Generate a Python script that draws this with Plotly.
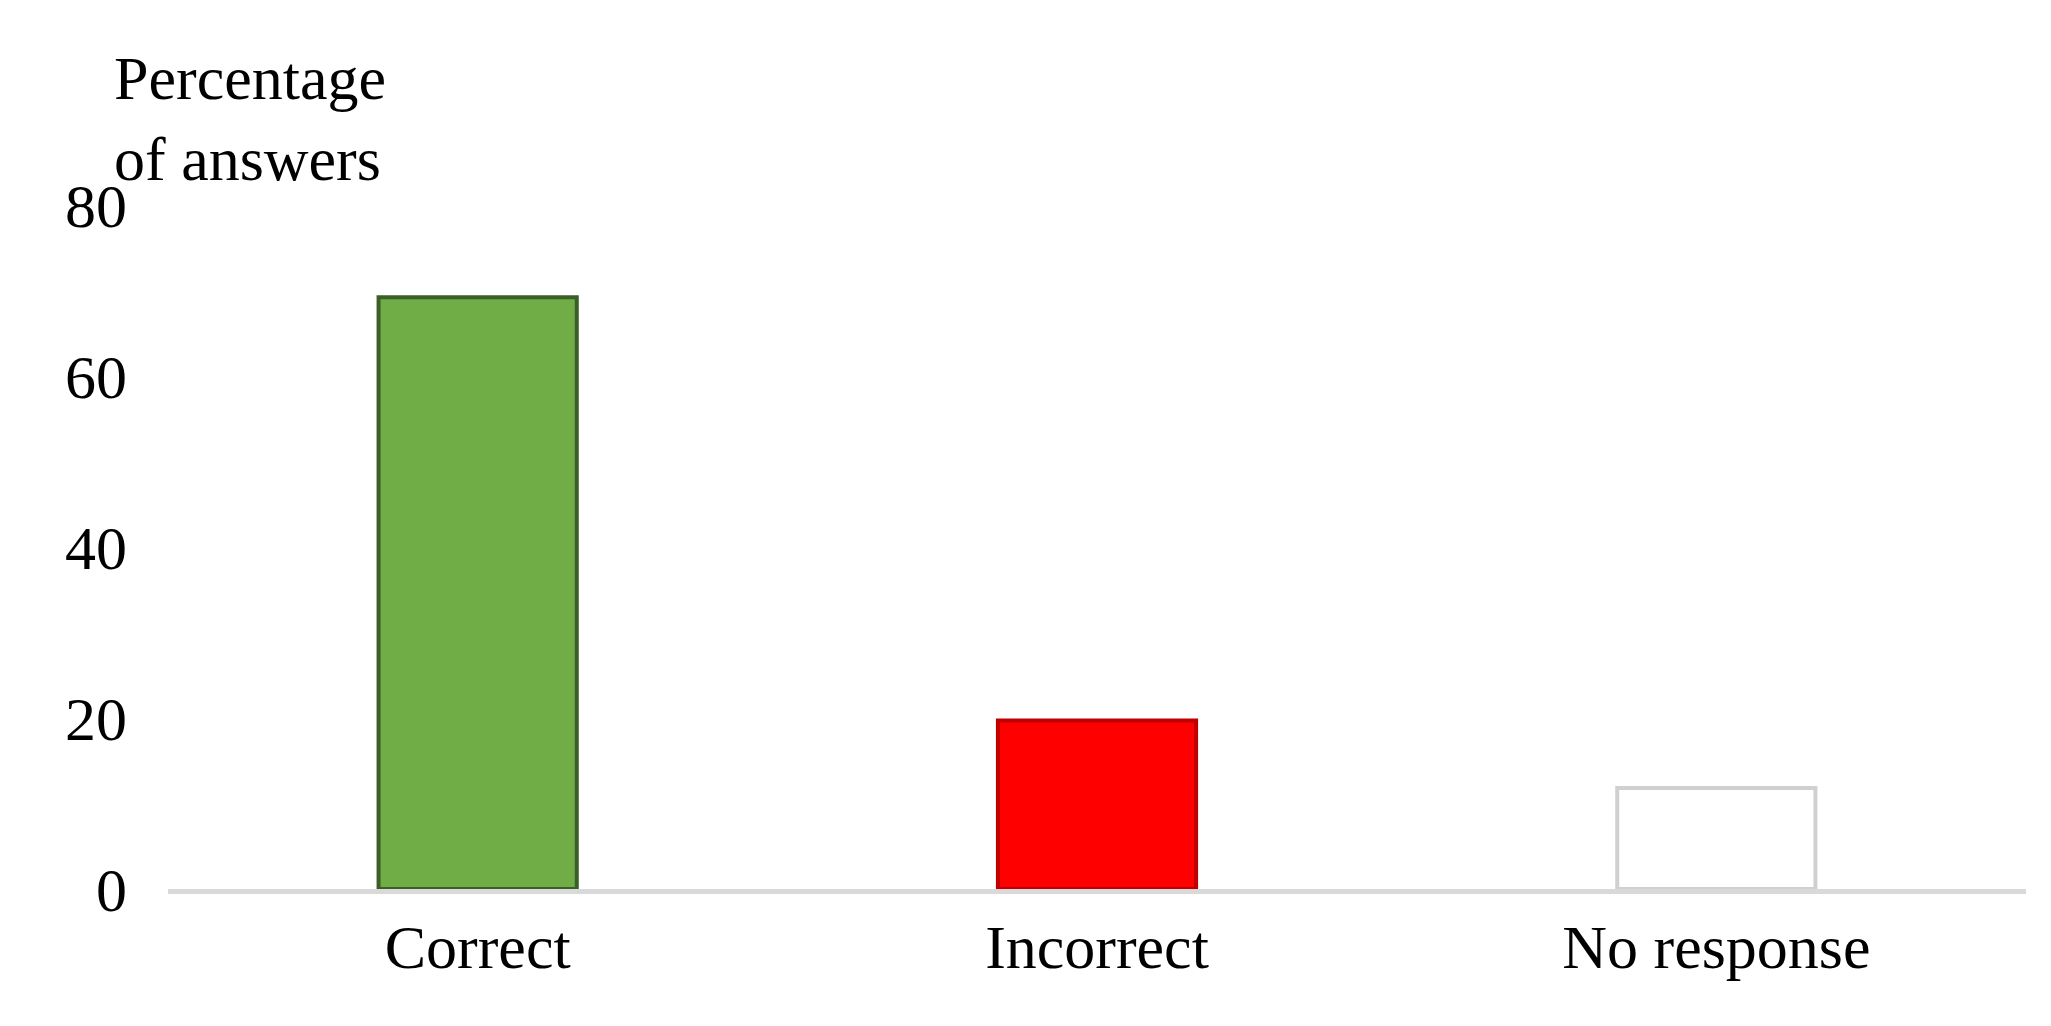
import plotly.graph_objects as go

categories = ["Correct", "Incorrect", "No response"]
values = [69.2, 19.7, 11.8]
fills = ["#70AD47", "#FF0000", "#FFFFFF"]
edges = ["#3A5F27", "#C00000", "#D0D0D0"]
yticks = [0, 20, 40, 60, 80]

fig = go.Figure(go.Bar(x=categories, y=values,
                       marker=dict(color=fills, line=dict(color=edges, width=4))))
font = dict(family="Liberation Serif, Times New Roman, serif", size=62, color="black")
fig.update_layout(
    width=2051, height=1026, plot_bgcolor="white", paper_bgcolor="white",
    margin=dict(l=160, r=33, t=197, b=145), bargap=0.68, showlegend=False, font=font,
    xaxis=dict(showline=True, linecolor="#D9D9D9", linewidth=5, ticks="", tickfont=font),
    yaxis=dict(range=[0, 80], tickvals=yticks, showgrid=False, zeroline=False,
               ticks="", tickfont=font, ticklabelstandoff=40),
    annotations=[dict(text="Percentage<br>of answers", xref="paper", yref="paper",
                      x=-0.03, y=1.0, xanchor="left", yanchor="bottom", align="left",
                      showarrow=False, font=font, yshift=10)],
)
fig.write_html("out.html")
